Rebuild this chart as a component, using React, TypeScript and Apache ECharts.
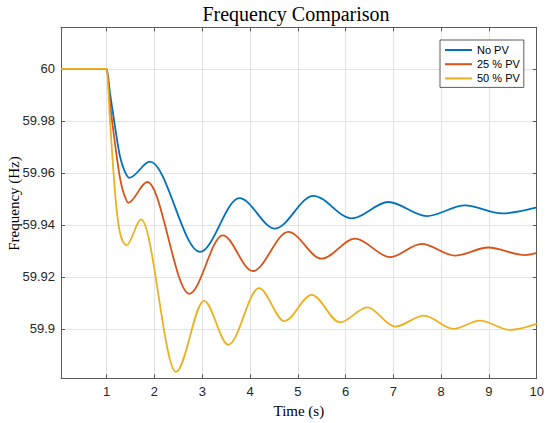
import React, { useEffect, useRef } from "react";
import * as echarts from "echarts";

// Series names and colours
const seriesNames = ["No PV", "25 % PV", "50 % PV"];
const seriesColors = ["#0072BD", "#D95319", "#EDB120"];

// Initial flat part and the first drop after the disturbance at t = 1 s (time s, frequency Hz)
const noPvDrop = [
  [0, 60], [1, 60], [1.069, 59.9907], [1.174, 59.9778], [1.279, 59.9663],
  [1.38, 59.9605],
];
const pv25Drop = [
  [0, 60], [1, 60], [1.069, 59.9869], [1.174, 59.9714], [1.279, 59.958],
  [1.383, 59.9508],
];
const pv50Drop = [
  [0, 60], [1, 60], [1.069, 59.9804], [1.139, 59.9611], [1.209, 59.9457],
  [1.314, 59.9347],
];

// Oscillation: successive minima / maxima
const noPvWave = [
  [1.473, 59.9581], [1.907, 59.9643], [2.953, 59.9296], [3.776, 59.9503],
  [4.523, 59.9386], [5.324, 59.9512], [6.128, 59.9425], [6.894, 59.9488],
  [7.698, 59.9434], [8.499, 59.9475], [9.267, 59.9444], [10, 59.9467],
];
const pv25Wave = [
  [1.452, 59.9485], [1.85, 59.9565], [2.729, 59.9135], [3.428, 59.936],
  [4.056, 59.9222], [4.801, 59.9373], [5.5, 59.927], [6.197, 59.9347],
  [6.93, 59.9276], [7.593, 59.9327], [8.29, 59.9282], [8.987, 59.9313],
  [9.755, 59.9284], [10, 59.9292],
];
const pv50Wave = [
  [1.419, 59.9322], [1.72, 59.9421], [2.451, 59.8835], [3.037, 59.9108],
  [3.545, 59.8939], [4.188, 59.9157], [4.72, 59.903], [5.291, 59.9131],
  [5.883, 59.9025], [6.455, 59.9083], [7.034, 59.9009], [7.641, 59.9051],
  [8.254, 59.9], [8.813, 59.9032], [9.441, 59.8996], [10, 59.9019],
];

// Axis ranges
const xMin = 0.044;
const xMax = 10;
const xStep = 1;
const yMin = 59.881;
const yMax = 60.016;
const yStep = 0.02;

const dropData = [noPvDrop, pv25Drop, pv50Drop];
const waveData = [noPvWave, pv25Wave, pv50Wave];

const AXIS_COLOR = "#5a5a5a";
const GRID_COLOR = "#e3e3e3";
const LABEL_COLOR = "#262626";
const SANS = "Liberation Sans, Arial, sans-serif";
const SERIF = "Liberation Serif, Times New Roman, serif";
const LINE_WIDTH = 1.8;

function onStep(v: number, step: number) {
  const k = v / step;
  return Math.abs(k - Math.round(k)) < 1e-6;
}

// Smooth monotone cubic path through pixel points (flat tangents at extrema)
function smoothPath(px: number[][]): string {
  const n = px.length;
  if (n < 2) return "";
  const h: number[] = [];
  const s: number[] = [];
  for (let i = 0; i < n - 1; i++) {
    h[i] = px[i + 1][0] - px[i][0];
    s[i] = h[i] !== 0 ? (px[i + 1][1] - px[i][1]) / h[i] : 0;
  }
  const m: number[] = new Array(n).fill(0);
  for (let i = 1; i < n - 1; i++) {
    const p = (s[i - 1] * h[i] + s[i] * h[i - 1]) / (h[i - 1] + h[i]);
    m[i] =
      (Math.sign(s[i - 1]) + Math.sign(s[i])) *
      Math.min(Math.abs(s[i - 1]), Math.abs(s[i]), 0.5 * Math.abs(p));
  }
  m[0] = n > 2 ? (3 * s[0] - m[1]) / 2 : s[0];
  m[n - 1] = n > 2 ? (3 * s[n - 2] - m[n - 2]) / 2 : s[n - 2];
  let d = `M${px[0][0].toFixed(2)},${px[0][1].toFixed(2)}`;
  for (let i = 0; i < n - 1; i++) {
    const dx = h[i] / 3;
    const c1x = px[i][0] + dx;
    const c1y = px[i][1] + m[i] * dx;
    const c2x = px[i + 1][0] - dx;
    const c2y = px[i + 1][1] - m[i + 1] * dx;
    d += ` C${c1x.toFixed(2)},${c1y.toFixed(2)} ${c2x.toFixed(2)},${c2y.toFixed(2)} ${px[i + 1][0].toFixed(2)},${px[i + 1][1].toFixed(2)}`;
  }
  return d;
}

export default function App() {
  const ref = useRef<HTMLDivElement>(null);

  useEffect(() => {
    if (!ref.current) return;
    const chart = echarts.init(ref.current, null, { renderer: "svg" });

    const series: any[] = seriesNames.map((name, i) => {
      const color = seriesColors[i];
      const pts = [...dropData[i], ...waveData[i]];
      return {
        name,
        type: "custom",
        coordinateSystem: "cartesian2d",
        data: pts,
        encode: { x: 0, y: 1 },
        clip: true,
        silent: true,
        itemStyle: { color },
        emphasis: { disabled: true },
        renderItem: (params: any, api: any) => {
          if (params.dataIndex !== 0) return null;
          const px = pts.map((p) => api.coord(p));
          return {
            type: "path",
            shape: { pathData: smoothPath(px) },
            style: { stroke: color, fill: "none", lineWidth: LINE_WIDTH, lineJoin: "round" },
          };
        },
      };
    });

    const baseX = {
      type: "value",
      min: xMin,
      max: xMax,
      minInterval: xStep,
      maxInterval: xStep,
    };
    const baseY = {
      type: "value",
      min: yMin,
      max: yMax,
      minInterval: yStep,
      maxInterval: yStep,
      scale: true,
    };

    chart.setOption({
      animation: false,
      backgroundColor: "#ffffff",
      title: {
        text: "Frequency Comparison",
        left: 296,
        top: 4,
        textAlign: "center",
        padding: 0,
        textStyle: { fontFamily: SERIF, fontSize: 20, fontWeight: "normal", color: "#000" },
      },
      graphic: [
        {
          type: "text",
          x: 14,
          y: 203.5,
          rotation: Math.PI / 2,
          silent: true,
          style: {
            text: "Frequency (Hz)",
            fontFamily: SERIF,
            fontSize: 15,
            fill: "#000",
            align: "center",
            verticalAlign: "middle",
          },
        },
      ],
      legend: {
        data: seriesNames,
        orient: "vertical",
        left: 440,
        top: 40,
        icon: "rect",
        itemWidth: 27,
        itemHeight: 2,
        itemGap: 2.2,
        padding: [4, 4, 3, 5],
        backgroundColor: "#fff",
        borderColor: "#333",
        borderWidth: 0.8,
        borderRadius: 0,
        selectedMode: false,
        itemStyle: { borderWidth: 0 },
        textStyle: { fontFamily: SANS, fontSize: 11, color: "#000", lineHeight: 12 },
      },
      grid: {
        left: 61,
        top: 27.3,
        right: 13.3,
        bottom: 44.7,
        containLabel: false,
        outerBoundsMode: "none",
      },
      xAxis: [
        {
          ...baseX,
          position: "bottom",
          name: "Time (s)",
          nameLocation: "middle",
          nameGap: 25,
          nameTextStyle: { fontFamily: SERIF, fontSize: 15, color: "#000" },
          axisLine: { show: true, onZero: false, lineStyle: { color: AXIS_COLOR, width: 1 } },
          axisTick: { show: true, inside: true, length: 4, lineStyle: { color: AXIS_COLOR } },
          axisLabel: {
            show: true,
            margin: 7,
            fontFamily: SANS,
            fontSize: 13,
            color: LABEL_COLOR,
            showMinLabel: false,
            formatter: (v: number) => (onStep(v, xStep) && v > 0.5 ? String(Math.round(v)) : ""),
          },
          splitLine: { show: true, lineStyle: { color: GRID_COLOR, width: 1 } },
        },
        {
          ...baseX,
          position: "top",
          axisLine: { show: true, onZero: false, lineStyle: { color: AXIS_COLOR, width: 1 } },
          axisTick: { show: true, inside: true, length: 4, lineStyle: { color: AXIS_COLOR } },
          axisLabel: { show: false },
          splitLine: { show: false },
        },
      ],
      yAxis: [
        {
          ...baseY,
          position: "left",
          axisLine: { show: true, onZero: false, lineStyle: { color: AXIS_COLOR, width: 1 } },
          axisTick: { show: true, inside: true, length: 4, lineStyle: { color: AXIS_COLOR } },
          axisLabel: {
            show: true,
            margin: 6,
            fontFamily: SANS,
            fontSize: 13,
            color: LABEL_COLOR,
            showMinLabel: false,
            showMaxLabel: false,
            formatter: (v: number) => (onStep(v, yStep) ? String(Number(v.toFixed(2))) : ""),
          },
          splitLine: { show: true, lineStyle: { color: GRID_COLOR, width: 1 } },
        },
        {
          ...baseY,
          position: "right",
          axisLine: { show: true, onZero: false, lineStyle: { color: AXIS_COLOR, width: 1 } },
          axisTick: { show: true, inside: true, length: 4, lineStyle: { color: AXIS_COLOR } },
          axisLabel: { show: false },
          splitLine: { show: false },
        },
      ],
      series,
    });

    return () => chart.dispose();
  }, []);

  return (
    <div
      ref={ref}
      style={{ position: "fixed", left: 0, top: 0, width: 550, height: 423, background: "#fff" }}
    />
  );
}
